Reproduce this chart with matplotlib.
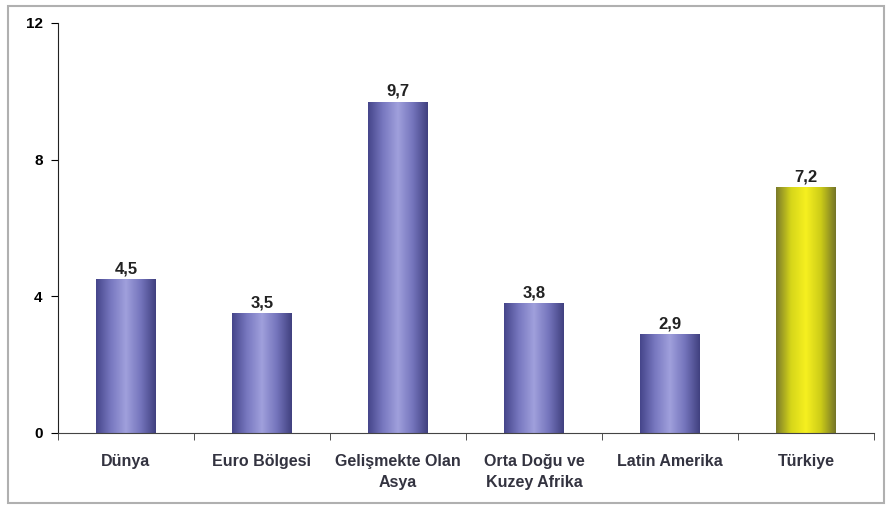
import numpy as np
import matplotlib.pyplot as plt
from matplotlib.colors import LinearSegmentedColormap
from matplotlib.patches import Rectangle

plt.rcParams['font.family'] = ['Liberation Sans', 'DejaVu Sans']

categories = ['Dünya', 'Euro Bölgesi', 'Gelişmekte Olan\nAsya',
              'Orta Doğu ve\nKuzey Afrika', 'Latin Amerika', 'Türkiye']
values = [4.5, 3.5, 9.7, 3.8, 2.9, 7.2]
labels = ['4,5', '3,5', '9,7', '3,8', '2,9', '7,2']
highlight = 'Türkiye'

blue_cmap = LinearSegmentedColormap.from_list('b', ['#45458a', '#7878c0', '#a0a0dc', '#7474bc', '#40407f'])
yellow_cmap = LinearSegmentedColormap.from_list('y', ['#7a7a2a', '#d6d61a', '#f6f020', '#cccc18', '#747428'])

fig = plt.figure(figsize=(8.91, 5.07), dpi=100)
fig.patches.append(Rectangle((8/891, 4/507), 876/891, 497/507, transform=fig.transFigure,
                             fill=False, edgecolor='#b0b0b0', linewidth=1.5))
ax = fig.add_axes([58/891, 1-433/507, (874-58)/891, (433-23)/507])

x = np.arange(len(categories))
width = 0.44
bars = ax.bar(x, values, width=width, color='none', edgecolor='none', zorder=2)
grad = np.linspace(0, 1, 256).reshape(1, -1)
for bar, cat, val, lab in zip(bars, categories, values, labels):
    cmap = yellow_cmap if cat == highlight else blue_cmap
    x0 = bar.get_x()
    im = ax.imshow(grad, cmap=cmap, aspect='auto', extent=[x0, x0 + width, 0, val], zorder=2)
    im.set_clip_path(bar)
    ax.text(x0 + width/2, val + 0.08, lab, ha='center', va='bottom', fontsize=12,
            fontweight='bold', color='#222222')

ax.set_xlim(-0.5, len(categories) - 0.5)
ax.set_ylim(0, 12)
ax.set_yticks([0, 4, 8, 12])
ax.set_xticks(x)
ax.set_xticklabels(categories, fontsize=11.5, fontweight='bold', color='#333340',
                   linespacing=1.5)
ax.set_xticks(np.arange(len(categories) + 1) - 0.5, minor=True)
ax.tick_params(axis='x', which='major', length=0, pad=15)
ax.tick_params(axis='x', which='minor', length=5, direction='out', color='#333333')
ax.tick_params(axis='y', length=5, direction='out', pad=6, labelsize=11)
for t in ax.get_yticklabels():
    t.set_fontweight('bold')
ax.spines['top'].set_visible(False)
ax.spines['right'].set_visible(False)
ax.spines['left'].set_color('#222222')
ax.spines['bottom'].set_color('#444444')

fig.savefig('out.png', dpi=100)
